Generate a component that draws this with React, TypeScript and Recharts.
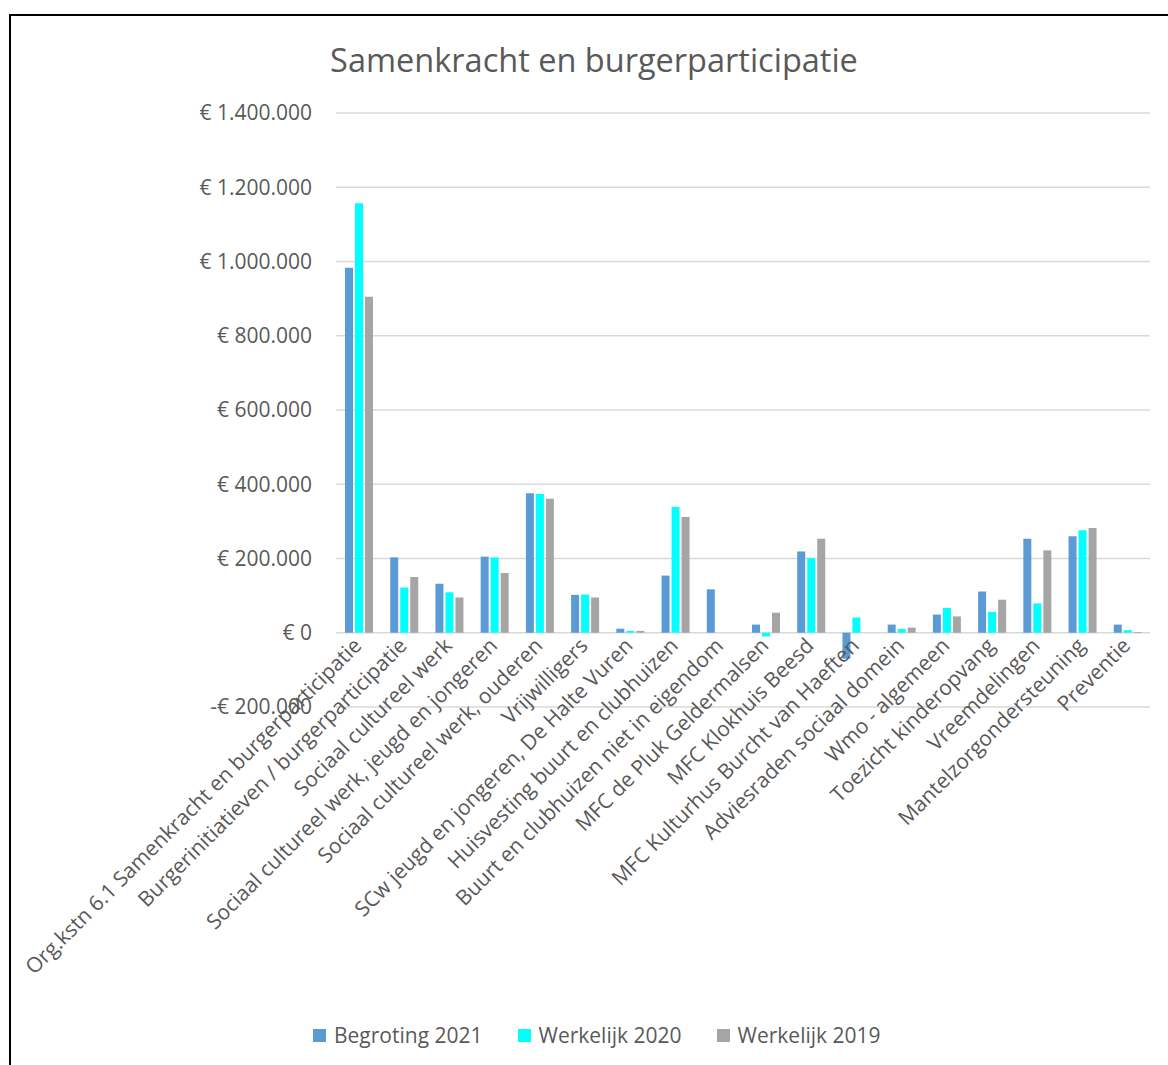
import React from 'react';
import { Bar, BarChart, CartesianGrid, XAxis, YAxis } from 'recharts';

const categories = [
  'Org.kstn 6.1 Samenkracht en burgerparticipatie',
  'Burgerinitiatieven / burgerparticipatie',
  'Sociaal cultureel werk',
  'Sociaal cultureel werk, jeugd en jongeren',
  'Sociaal cultureel werk, ouderen',
  'Vrijwilligers',
  'SCw jeugd en jongeren, De Halte Vuren',
  'Huisvesting buurt en clubhuizen',
  'Buurt en clubhuizen niet in eigendom',
  'MFC de Pluk Geldermalsen',
  'MFC Klokhuis Beesd',
  'MFC Kulturhus Burcht van Haeften',
  'Adviesraden sociaal domein',
  'Wmo - algemeen',
  'Toezicht kinderopvang',
  'Vreemdelingen',
  'Mantelzorgondersteuning',
  'Preventie',
];

const begroting2021 = [
  983000, 203000, 132000, 205000, 376000, 102000, 11000, 154000, 117000,
  22000, 219000, -70000, 22000, 49000, 111000, 253000, 260000, 22000,
];
const werkelijk2020 = [
  1157000, 122000, 109000, 203000, 374000, 103000, 5000, 339000, 0,
  -10000, 201000, 41000, 10000, 67000, 56000, 79000, 276000, 7000,
];
const werkelijk2019 = [
  905000, 150000, 95000, 161000, 361000, 95000, 5000, 312000, 0,
  54000, 253000, 0, 14000, 44000, 89000, 222000, 282000, 2000,
];

const yTicks = [-200000, 0, 200000, 400000, 600000, 800000, 1000000, 1200000, 1400000];

const series = [
  { key: 'b2021', name: 'Begroting 2021', color: '#5B9BD5' },
  { key: 'w2020', name: 'Werkelijk 2020', color: '#00FFFF' },
  { key: 'w2019', name: 'Werkelijk 2019', color: '#A5A5A5' },
];

const data = categories.map((name, i) => ({
  name,
  b2021: begroting2021[i],
  w2020: werkelijk2020[i],
  w2019: werkelijk2019[i],
}));

const W = 1168;
const H = 1065;
const TOP = 113;
const BOTTOM = 707;
const Y_MIN = -200000;
const Y_MAX = 1400000;
const FONT = '"Open Sans", sans-serif';
const TEXT = '#595959';

function euro(v: number) {
  const s = Math.abs(v).toString().replace(/\B(?=(\d{3})+(?!\d))/g, '.');
  return (v < 0 ? '-' : '') + '€ ' + s;
}

// labels hang under the zero line, not under the plot bottom
const zeroShift = ((BOTTOM - TOP) * (0 - Y_MIN)) / (Y_MAX - Y_MIN);

function CategoryTick(props: any) {
  const { x, payload } = props;
  const ty = BOTTOM - zeroShift + 10;
  return (
    <text
      x={x}
      y={ty}
      dy={6}
      textAnchor="end"
      transform={`rotate(-45, ${x}, ${ty})`}
      fill={TEXT}
      fontSize={21}
      fontFamily={FONT}
    >
      {payload.value}
    </text>
  );
}

export default function App() {
  return (
    <div style={{ position: 'absolute', left: 0, top: 0, width: W, height: H, background: '#fff', overflow: 'hidden' }}>
      <div
        style={{
          position: 'absolute',
          left: 9,
          top: 14,
          width: W + 20,
          height: H + 20,
          border: '2px solid #000',
        }}
      />
      <div
        style={{
          position: 'absolute',
          left: 0,
          top: 38,
          width: 1188,
          textAlign: 'center',
          fontFamily: FONT,
          fontSize: 32.5,
          color: TEXT,
          lineHeight: '44px',
        }}
      >
        Samenkracht en burgerparticipatie
      </div>
      <div style={{ position: 'absolute', left: 0, top: 0 }}>
        <BarChart
          width={W}
          height={H}
          data={data}
          margin={{ top: TOP, right: W - 1150, left: 0, bottom: 0 }}
          barSize={8}
          barGap={2}
        >
          <CartesianGrid vertical={false} stroke="#d9d9d9" strokeWidth={1.5} />
          <XAxis
            dataKey="name"
            interval={0}
            axisLine={false}
            tickLine={false}
            height={H - BOTTOM}
            tick={<CategoryTick />}
          />
          <YAxis
            width={336}
            domain={[Y_MIN, Y_MAX]}
            ticks={yTicks}
            axisLine={false}
            tickLine={false}
            tickSize={0}
            tickMargin={24}
            tickFormatter={euro}
            tick={{ fill: TEXT, fontSize: 21, fontFamily: FONT }}
          />
          {series.map((s) => (
            <Bar key={s.key} dataKey={s.key} name={s.name} fill={s.color} isAnimationActive={false} />
          ))}
        </BarChart>
      </div>
      <div
        style={{
          position: 'absolute',
          left: 313,
          top: 1021,
          display: 'flex',
          gap: 35,
          fontFamily: FONT,
          fontSize: 21,
          color: TEXT,
          lineHeight: '28px',
          whiteSpace: 'nowrap',
        }}
      >
        {series.map((s) => (
          <div key={s.key} style={{ display: 'flex', alignItems: 'center' }}>
            <span style={{ width: 13, height: 13, background: s.color, display: 'inline-block', marginRight: 8 }} />
            {s.name}
          </div>
        ))}
      </div>
    </div>
  );
}
